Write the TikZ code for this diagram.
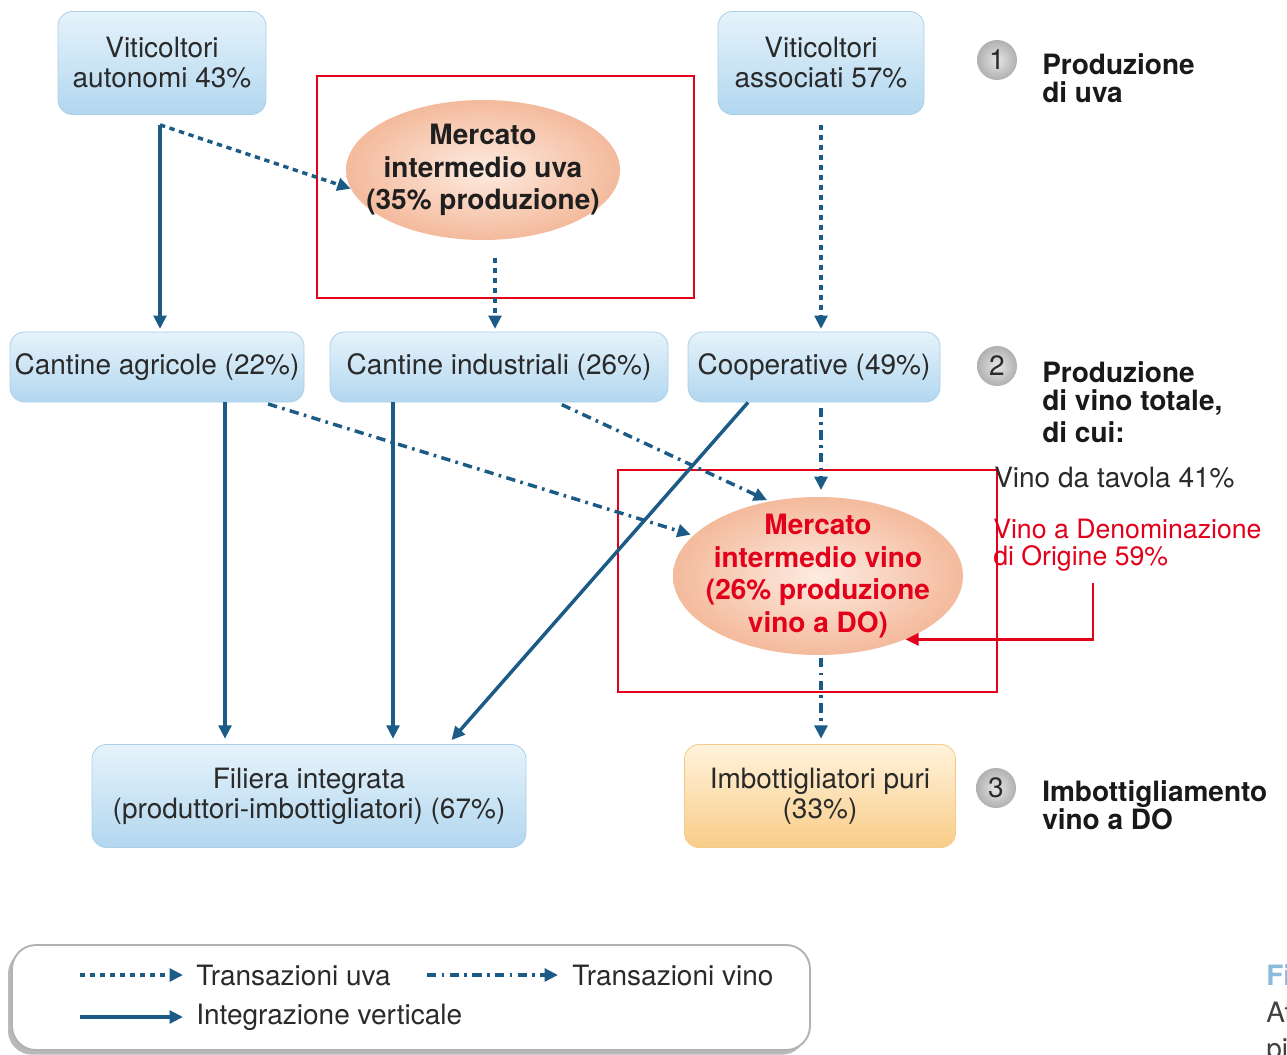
\documentclass[tikz,border=0pt]{standalone}
\usepackage{fontspec}
\setmainfont{TeX Gyre Heros}
\usetikzlibrary{shapes.geometric,arrows.meta,shadows,calc}
\definecolor{arrowblue}{HTML}{1C5B86}
\definecolor{boxtop}{HTML}{E6F3FB}
\definecolor{boxbot}{HTML}{B2D7EF}
\definecolor{boxline}{HTML}{A9CFE9}
\definecolor{orgtop}{HTML}{FFF3DC}
\definecolor{orgbot}{HTML}{F9CC88}
\definecolor{orgline}{HTML}{F5C98A}
\definecolor{ellin}{HTML}{FDEBE1}
\definecolor{ellout}{HTML}{F4BA9C}
\definecolor{mkred}{HTML}{E2001A}
\definecolor{txtgray}{HTML}{2A2A2A}
\definecolor{capblue}{HTML}{8BBBDC}
\begin{document}
\begin{tikzpicture}[x=0.75pt,y=-0.75pt,
  txt/.style={font=\fontsize{21}{22.5}\selectfont, text=txtgray},
  bluebox/.style={txt, rounded corners=11pt, top color=boxtop, bottom color=boxbot, draw=boxline, line width=0.6pt, align=center, inner sep=0pt},
  orgbox/.style={bluebox, top color=orgtop, bottom color=orgbot, draw=orgline},
  mkt/.style={ellipse, inner color=ellin, outer color=ellout, inner sep=0pt},
  mkttext/.style={align=center, inner sep=0pt, font=\bfseries\fontsize{21}{24.5}\selectfont},
  tip/.style={-{Triangle[length=10pt,width=9.5pt]}},
  integ/.style={arrowblue, line width=2.6pt, tip},
  uva/.style={integ, dash pattern=on 4pt off 3.5pt},
  vino/.style={integ, dash pattern=on 7pt off 4pt on 2pt off 4pt},
  hl/.style={mkred, line width=1.6pt},
  stage/.style={circle, minimum size=30pt, inner sep=0pt, inner color=gray!20, outer color=gray!62, font=\fontsize{21}{22}\selectfont, text=txtgray},
  lab/.style={font=\bfseries\fontsize{21}{21}\selectfont, align=left, inner sep=0pt, anchor=west, text=black!90},
  legtxt/.style={txt, inner sep=0pt, anchor=west},
]
\useasboundingbox (0,0) rectangle (1287,1055);
\fill[white] (0,0) rectangle (1287,1055);

% top row
\node[bluebox, minimum width=156pt, minimum height=77.25pt] (va) at (162,63) {Viticoltori\\autonomi 43\%};
\node[bluebox, minimum width=154.5pt, minimum height=77.25pt] (vs) at (821,63) {Viticoltori\\associati 57\%};

% grape market
\node[mkt, minimum width=205.5pt, minimum height=105pt] (mu) at (483,170) {};
\node[mkttext, text=black!88] (mut) at (mu.center) {Mercato\\intermedio uva\\(35\% produzione)};

% middle row
\node[bluebox, minimum width=220.5pt, minimum height=52.5pt] (ca) at (157,367) {Cantine agricole (22\%)};
\node[bluebox, minimum width=253.5pt, minimum height=52.5pt] (ci) at (499,367) {Cantine industriali (26\%)};
\node[bluebox, minimum width=189pt, minimum height=52.5pt] (co) at (814,367) {Cooperative (49\%)};

% wine market
\node[mkt, minimum width=217.5pt, minimum height=118.5pt] (mv) at (818,576) {};
\node[mkttext, text=mkred] (mvt) at (mv.center) {Mercato\\intermedio vino\\(26\% produzione\\vino a DO)};

% bottom row
\node[bluebox, minimum width=325.5pt, minimum height=77.25pt] (fi) at (309,796) {Filiera integrata\\(produttori-imbottigliatori) (67\%)};
\node[orgbox, minimum width=203.25pt, minimum height=77.25pt] (ib) at (820,796) {Imbottigliatori puri\\(33\%)};

% red highlight frames
\draw[hl] (317,76) rectangle (694,298);
\draw[hl] (618,470) rectangle (997,692);

% stages
\node[stage] (s1) at (997,60) {1};
\node[lab] (l1) at (1042,78) {Produzione\\di uva};
\node[stage] (s2) at (997,366) {2};
\node[lab] (l2) at (1042,402) {Produzione\\di vino totale,\\[3pt]di cui:};
\node[txt, anchor=base west, inner sep=0pt] (vt) at (994,487) {Vino da tavola 41\%};
\node[font=\fontsize{20}{20.5}\selectfont, text=mkred, align=left, anchor=west, inner sep=0pt] (vdo) at (993,545) {Vino a Denominazione\\di Origine 59\%};
\node[stage] (s3) at (996,788) {3};
\node[lab] (l3) at (1042,805) {Imbottigliamento\\vino a DO};

% connectors
\path (va.south) ++(-2,10) coordinate (vaout);
\draw[integ, shorten >=2pt] (vaout) -- (vaout |- ca.north);
\draw[uva] (vaout) -- (mu.188);
\draw[uva, shorten <=13pt, shorten >=2pt] ([xshift=9pt]mu.south) -- ([xshift=9pt]mu.south |- ci.north);
\draw[uva, shorten <=7.5pt, shorten >=2pt] (vs.south) -- (vs.south |- co.north);

\draw[integ, shorten >=4pt] ([xshift=51pt]ca.south) -- ([xshift=51pt]ca.south |- fi.north);
\draw[integ, shorten >=4pt] ([xshift=-79.5pt]ci.south) -- ([xshift=-79.5pt]ci.south |- fi.north);
\draw[integ, shorten >=4pt] ([xshift=-49.5pt]co.south) -- ([xshift=104.25pt]fi.north);

\draw[vino, shorten <=4pt, shorten >=2pt] ([xshift=79.5pt]ca.south) -- (mv.162);
\draw[vino, shorten <=4pt, shorten >=2pt] ([xshift=43.5pt]ci.south) -- (mv.123);
\draw[vino, shorten <=4pt, shorten >=5pt] (vs.south |- co.south) -- (vs.south |- mv.north);
\draw[vino, shorten <=2pt, shorten >=4pt] (vs.south |- mv.south) -- (vs.south |- ib.north);

\coordinate (rs) at (1093,583);
\draw[mkred, line width=2.2pt, -{Triangle[length=10pt,width=9pt]}] (rs) |- (mv.-36);

% legend
\node[draw=gray!60, line width=1.4pt, rounded corners=18pt, fill=white, drop shadow={shadow xshift=-3pt, shadow yshift=-3.5pt, fill=gray!55, opacity=1}, minimum width=598.5pt, minimum height=78.75pt, inner sep=0pt] (leg) at (411,997.5) {};
\coordinate (la1) at (80,975);  \coordinate (lb1) at (183,975);
\coordinate (la2) at (427,975); \coordinate (lb2) at (558,975);
\coordinate (la3) at (80,1017); \coordinate (lb3) at (183,1017);
\draw[uva] (la1) -- (lb1);
\draw[vino] (la2) -- (lb2);
\draw[integ] (la3) -- (lb3);
\node[legtxt] (t1) at (196,975) {Transazioni uva};
\node[legtxt] (t2) at (572,975) {Transazioni vino};
\node[legtxt] (t3) at (196,1017) {Integrazione verticale};

% caption fragment (cut at the edge, as in the reference)
\begin{scope}
\clip (0,0) rectangle (1287,1055);
\node[anchor=base west, inner sep=0pt, text=capblue, font=\bfseries\fontsize{21}{22}\selectfont] (c1) at (1266,985) {Fi};
\node[anchor=base west, inner sep=0pt, text=black!75, font=\fontsize{21}{22}\selectfont] (c2) at (1266,1022) {At};
\node[anchor=base west, inner sep=0pt, text=black!75, font=\fontsize{21}{22}\selectfont] (c3) at (1266,1058) {pi};
\end{scope}
\end{tikzpicture}
\end{document}
